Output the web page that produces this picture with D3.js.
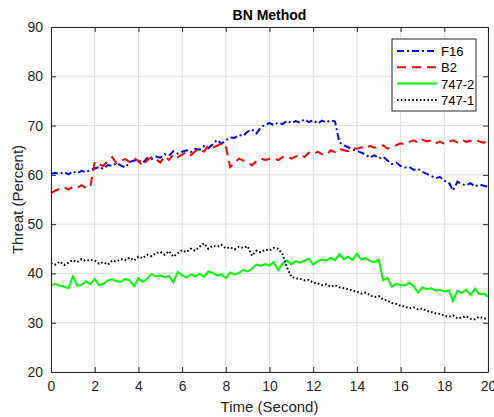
<!DOCTYPE html>
<html>
<head>
<meta charset="utf-8">
<script src="https://cdn.jsdelivr.net/npm/d3@7"></script>
<style>
  body { margin: 0; background: #fff; }
  svg { font-family: "Liberation Sans", Arial, sans-serif; }
  .axis path, .axis line { stroke: #262626; }
  .axis text { fill: #262626; font-size: 14px; }
</style>
</head>
<body>
<div class="chart"></div>
<script>
// time in seconds, 0.2 s step
const times = d3.range(0, 101).map(i => +(i * 0.2).toFixed(1));

const xTicks = [0, 2, 4, 6, 8, 10, 12, 14, 16, 18, 20];
const yTicks = [20, 30, 40, 50, 60, 70, 80, 90];

const f16 = [
	60.2, 60.4, 60.2, 60.6, 60.1, 60.7, 60.3, 60.8, 60.5, 61.0, 61.3,
	61.6, 61.2, 62.0, 61.8, 62.4, 61.9, 61.5, 62.6, 62.9, 63.0,
	62.4, 63.4, 63.2, 63.7, 63.5, 64.2, 63.9, 64.8, 64.3, 64.7,
	65.0, 64.6, 65.3, 65.1, 65.8, 65.4, 66.2, 67.1, 66.3, 67.0,
	67.6, 67.5, 68.1, 67.9, 68.8, 69.2, 68.4, 69.6, 70.2, 70.5,
	70.1, 70.6, 70.3, 71.0, 70.5, 70.9, 70.6, 71.3, 70.7, 71.1,
	70.4, 71.0, 70.6, 71.1, 70.8, 66.6, 66.0, 65.6, 65.1, 64.9,
	64.5, 64.1, 63.5, 64.0, 63.3, 63.7, 62.9, 62.2, 62.5, 61.8,
	61.5, 61.6, 61.0, 61.2, 60.6, 60.2, 59.8, 59.3, 59.6, 58.8,
	58.5, 56.8, 58.6, 58.1, 57.9, 58.3, 57.6, 58.1, 57.8, 57.6
];

const b2 = [
	56.3, 56.8, 57.2, 57.5, 57.0, 57.6, 57.4, 57.9, 57.3, 57.6, 62.6,
	62.2, 61.8, 62.9, 63.6, 62.4, 62.9, 63.2, 62.6, 63.4, 62.8,
	61.8, 63.0, 63.6, 63.2, 62.5, 63.8, 63.0, 64.2, 63.6, 64.1,
	64.6, 64.0, 64.8, 65.3, 64.7, 66.0, 65.5, 65.9, 66.4, 65.8,
	61.6, 62.4, 63.3, 62.9, 62.6, 61.9, 62.8, 63.3, 63.0, 63.2,
	63.3, 63.0, 63.6, 63.8, 63.3, 63.7, 64.1, 63.6, 64.5, 64.2,
	64.7, 64.2, 64.0, 65.0, 64.6, 65.3, 65.0, 64.8, 65.4, 65.3,
	65.6, 65.3, 65.9, 65.5, 65.7, 66.0, 65.3, 65.6, 66.0, 66.4,
	66.2, 66.7, 67.0, 66.5, 67.1, 66.8, 67.0, 66.4, 66.7, 66.3,
	66.8, 67.0, 66.6, 67.1, 66.7, 66.9, 67.2, 66.8, 66.5, 67.1
];

const b747_2 = [
	37.6, 37.9, 37.5, 37.3, 37.0, 39.4, 37.5, 37.7, 38.4, 37.8, 38.9,
	37.6, 37.9, 38.6, 38.8, 38.4, 38.3, 38.9, 38.6, 37.4, 39.0,
	38.3, 38.9, 39.9, 39.4, 39.6, 39.2, 39.5, 38.2, 40.3, 39.6,
	39.2, 39.8, 39.4, 39.9, 39.3, 40.4, 40.1, 39.6, 39.8, 39.0,
	40.2, 39.8, 40.1, 40.7, 40.4, 41.0, 41.8, 41.5, 41.9, 41.6,
	42.3, 40.7, 42.0, 42.6, 41.8, 42.5, 42.2, 42.6, 43.0, 41.8,
	42.5, 42.8, 42.6, 43.2, 42.7, 43.9, 42.9, 43.4, 42.7, 44.0,
	42.8, 43.1, 42.5, 42.3, 42.8, 38.6, 39.1, 37.3, 37.9, 37.6,
	37.6, 38.1, 37.4, 36.1, 37.2, 36.8, 37.0, 36.5, 36.7, 36.3,
	36.6, 34.4, 36.5, 36.0, 36.7, 35.6, 36.9, 35.8, 35.9, 35.3
];

const b747_1 = [
	42.1, 41.8, 42.4, 41.7, 42.2, 42.7, 42.3, 42.9, 42.5, 42.8, 42.6,
	42.0, 42.3, 41.8, 42.6, 42.4, 42.9, 42.7, 43.2, 42.6, 43.4,
	43.1, 43.8, 43.5, 44.1, 44.4, 43.8, 44.5, 43.4, 44.1, 44.7,
	44.3, 45.0, 44.6, 45.4, 46.1, 45.0, 45.6, 45.4, 45.8, 45.1,
	45.3, 44.9, 45.4, 45.2, 45.5, 43.6, 44.6, 44.3, 44.8, 44.7,
	45.2, 45.0, 43.9, 41.2, 39.3, 39.0, 38.9, 38.6, 38.7, 38.1,
	38.0, 37.6, 37.8, 37.3, 37.6, 37.2, 37.0, 36.8, 36.5, 36.3,
	35.9, 36.1, 35.6, 35.2, 35.4, 34.7, 34.5, 34.0, 33.8, 33.4,
	33.3, 32.9, 33.1, 32.7, 32.9, 32.4, 32.2, 31.9, 31.8, 31.4,
	31.2, 31.5, 30.9, 31.0, 31.3, 30.8, 30.7, 31.2, 30.9, 30.7
];

const seriesNames = ['F16', 'B2', '747-2', '747-1'];
const seriesValues = [f16, b2, b747_2, b747_1];
const seriesColors = ['#0000ff', '#ff0000', '#00ff00', '#000000'];
const seriesDash = ['7,3,2,3', '9,6', null, '1.6,2.2'];

const width = 494, height = 417;
const margin = {top: 27, right: 6, bottom: 45, left: 51};
const w = width - margin.left - margin.right;
const h = height - margin.top - margin.bottom;

let svg = d3.select('.chart').append('svg')
.attr('width', width)
.attr('height', height)

let x = d3.scaleLinear().domain([0, 20]).range([0, w]);
let y = d3.scaleLinear().domain([20, 90]).range([h, 0]);

let g = svg.append('g')
.attr('transform', `translate(${margin.left},${margin.top})`)

// grid
g.append('g')
.selectAll('line')
.data(xTicks)
.enter()
.append('line')
.attr('x1', d => x(d)).attr('x2', d => x(d))
.attr('y1', 0).attr('y2', h)
.attr('stroke', '#dfdfdf')

g.append('g')
.selectAll('line')
.data(yTicks)
.enter()
.append('line')
.attr('y1', d => y(d)).attr('y2', d => y(d))
.attr('x1', 0).attr('x2', w)
.attr('stroke', '#dfdfdf')

// series
let line = d3.line()
.x((d, i) => x(times[i]))
.y(d => y(d))

seriesValues.forEach((vals, k) => {
	g.append('path')
	.datum(vals)
	.attr('d', line)
	.attr('fill', 'none')
	.attr('stroke', seriesColors[k])
	.attr('stroke-width', k == 3 ? 2 : 2)
	.attr('stroke-dasharray', seriesDash[k])
	.attr('stroke-linecap', k == 3 ? 'butt' : 'butt')
})

// axes, ticks inward, box on
const tick = 5;

g.append('g').attr('class', 'axis')
.attr('transform', `translate(0,${h})`)
.call(d3.axisBottom(x).tickValues(xTicks).tickSizeInner(-tick).tickSizeOuter(0).tickPadding(9))

g.append('g').attr('class', 'axis')
.call(d3.axisTop(x).tickValues(xTicks).tickSizeInner(-tick).tickSizeOuter(0).tickFormat(''))

g.append('g').attr('class', 'axis')
.call(d3.axisLeft(y).tickValues(yTicks).tickSizeInner(-tick).tickSizeOuter(0).tickPadding(8))

g.append('g').attr('class', 'axis')
.attr('transform', `translate(${w},0)`)
.call(d3.axisRight(y).tickValues(yTicks).tickSizeInner(-tick).tickSizeOuter(0).tickFormat(''))

// title and labels
svg.append('text')
.attr('x', margin.left + w / 2).attr('y', 20)
.attr('text-anchor', 'middle')
.attr('font-size', 14).attr('font-weight', 'bold')
.attr('fill', '#000')
.text('BN Method')

svg.append('text')
.attr('x', margin.left + w / 2).attr('y', 412)
.attr('text-anchor', 'middle')
.attr('font-size', 15)
.attr('fill', '#262626')
.text('Time (Second)')

svg.append('text')
.attr('transform', `translate(23,${margin.top + h / 2}) rotate(-90)`)
.attr('text-anchor', 'middle')
.attr('font-size', 15)
.attr('fill', '#262626')
.text('Threat (Percent)')

// legend
let legend = svg.append('g')
.attr('transform', 'translate(392,39)')

legend.append('rect')
.attr('width', 84).attr('height', 72)
.attr('fill', '#fff')
.attr('stroke', '#262626')
.attr('stroke-width', 1)

seriesNames.forEach((name, k) => {
	let ly = 12 + k * 16.3;
	legend.append('line')
	.attr('x1', 5).attr('x2', 45)
	.attr('y1', ly).attr('y2', ly)
	.attr('stroke', seriesColors[k])
	.attr('stroke-width', 2)
	.attr('stroke-dasharray', seriesDash[k])

	legend.append('text')
	.attr('x', 49).attr('y', ly + 5)
	.attr('font-size', 13)
	.attr('fill', '#000')
	.text(name)
})
</script>
</body>
</html>
